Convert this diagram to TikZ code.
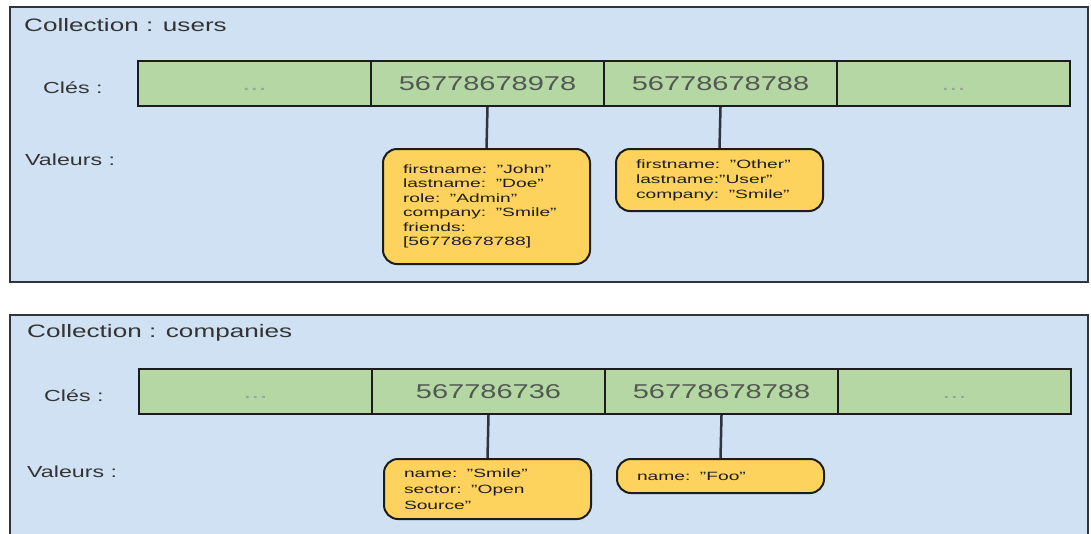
\documentclass[tikz,border=0pt]{standalone}
\usepackage{fontspec}
\setmainfont{Liberation Sans}
\usepackage{graphicx}

\definecolor{panelfill}{HTML}{CFE1F2}
\definecolor{panelline}{HTML}{2E3440}
\definecolor{keyfill}{HTML}{B4D7A4}
\definecolor{valfill}{HTML}{FDD35E}
\definecolor{inkdark}{HTML}{1C1C1C}
\definecolor{keyink}{HTML}{525852}
\definecolor{dotink}{HTML}{97A797}
\definecolor{labelink}{HTML}{333333}

% wide letterforms used throughout the chart
\newcommand\wideA[1]{\scalebox{1.45}[1]{#1}}
\newcommand\wideB[1]{\scalebox{1.6}[1]{#1}}

\begin{document}
\begin{tikzpicture}[x=1pt,y=-1pt,
  panel/.style={draw=panelline, line width=2.5pt, fill=panelfill},
  title/.style={anchor=west, inner sep=0pt, text=labelink, font=\fontsize{18}{20}\selectfont},
  rowlabel/.style={anchor=west, inner sep=0pt, text=labelink, font=\fontsize{16}{18}\selectfont},
  keycell/.style={draw=inkdark, line width=2pt, fill=keyfill, minimum width=233pt,
    minimum height=45pt, inner sep=0pt, anchor=north west, text=keyink,
    font=\fontsize{20}{24}\selectfont},
  dotcell/.style={keycell, text=dotink},
  valbox/.style={draw=inkdark, line width=2pt, fill=valfill, rounded corners=14pt,
    anchor=north, align=left, inner xsep=20pt, inner ysep=0pt, minimum width=207pt,
    text width=167pt, text=inkdark},
  link/.style={draw=panelline, line width=2.5pt}
]
\useasboundingbox (0,0) rectangle (1091,533);
\fill[white] (0,0) rectangle (1091,533);
\clip (0,0) rectangle (1091,533);

% ---------- collection: users ----------
\draw[panel] (10,7) rectangle (1088,282);
\node[title] (t1) at (24,25) {\wideA{Collection : users}};
\node[rowlabel] (c1) at (43,88) {\wideA{Clés :}};
\node[rowlabel] (r1) at (25,160) {\wideA{Valeurs :}};

\node[dotcell] (k11) at (137,60) {\vphantom{0}\wideA{...}};
\node[keycell] (k12) at (370,60) {\wideA{56778678978}};
\node[keycell] (k13) at (603,60) {\wideA{56778678788}};
\node[dotcell] (k14) at (836,60) {\vphantom{0}\wideA{...}};

\node[valbox, minimum height=115pt, font=\fontsize{12}{14.5}\selectfont] (v11) at (486.5,148)
  {\wideB{firstname: "John"}\\ \wideB{lastname: "Doe"}\\ \wideB{role: "Admin"}\\
   \wideB{company: "Smile"}\\ \wideB{friends:}\\ \wideB{[56778678788]}};
\node[valbox, minimum height=62pt, font=\fontsize{12}{15}\selectfont] (v12) at (719.5,148)
  {\wideB{firstname: "Other"}\\ \wideB{lastname:"User"}\\ \wideB{company: "Smile"}};

\draw[link] (k12.south) -- (v11.north);
\draw[link] (k13.south) -- (v12.north);

% ---------- collection: companies ----------
\draw[panel] (10,315) rectangle (1088,545);
\node[title] (t2) at (27,333) {\wideA{Collection : companies}};
\node[rowlabel] (c2) at (44,396) {\wideA{Clés :}};
\node[rowlabel] (r2) at (27,472) {\wideA{Valeurs :}};

\node[dotcell] (k21) at (138,368) {\vphantom{0}\wideA{...}};
\node[keycell] (k22) at (371,368) {\wideA{567786736}};
\node[keycell] (k23) at (604,368) {\wideA{56778678788}};
\node[dotcell] (k24) at (837,368) {\vphantom{0}\wideA{...}};

\node[valbox, minimum height=60pt, font=\fontsize{12}{16}\selectfont] (v21) at (487.5,458)
  {\wideB{name: "Smile"}\\ \wideB{sector: "Open}\\ \wideB{Source"}};
\node[valbox, minimum height=34pt, font=\fontsize{12}{15}\selectfont] (v22) at (720.5,458)
  {\wideB{name: "Foo"}};

\draw[link] (k22.south) -- (v21.north);
\draw[link] (k23.south) -- (v22.north);
\end{tikzpicture}
\end{document}
